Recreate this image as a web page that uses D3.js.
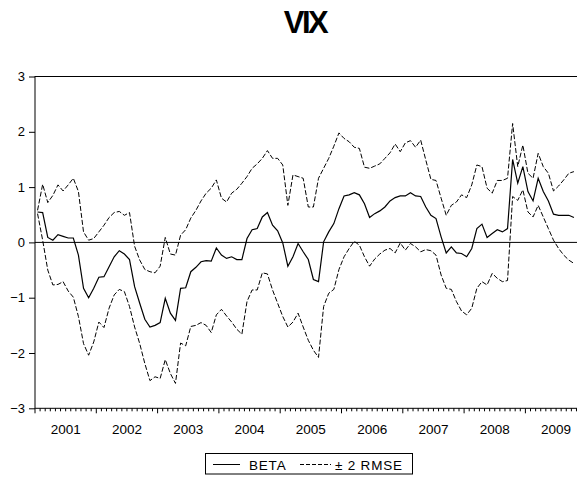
<!DOCTYPE html>
<html>
<head>
<meta charset="utf-8">
<script src="https://cdn.jsdelivr.net/npm/d3@7"></script>
<style>
  body { margin: 0; background: #fff; }
  svg { display: block; font-family: "Liberation Sans", Arial, sans-serif; }
</style>
</head>
<body>
<div id="chart"></div>
<script>
// monthly observations, 2001M01 onwards
var yearLabels = ["2001", "2002", "2003", "2004", "2005", "2006", "2007", "2008", "2009"];
var monthsShown = 108; // slots on the axis (9 years)

var beta = [0.55, 0.54, 0.09, 0.04, 0.14, 0.11, 0.08, 0.08, -0.23, -0.83,
    -1.00, -0.83, -0.63, -0.62, -0.44, -0.26, -0.15, -0.21, -0.31, -0.80,
    -1.10, -1.39, -1.53, -1.50, -1.45, -1.01, -1.28, -1.41, -0.83, -0.82,
    -0.53, -0.45, -0.35, -0.33, -0.34, -0.10, -0.23, -0.29, -0.26, -0.31,
    -0.31, 0.07, 0.23, 0.25, 0.46, 0.54, 0.31, 0.21, -0.01, -0.43,
    -0.26, -0.02, -0.17, -0.31, -0.67, -0.71, 0.01, 0.19, 0.34, 0.61,
    0.84, 0.86, 0.90, 0.86, 0.70, 0.45, 0.52, 0.57, 0.64, 0.75,
    0.81, 0.84, 0.84, 0.90, 0.84, 0.83, 0.64, 0.49, 0.43, 0.10,
    -0.19, -0.08, -0.19, -0.20, -0.26, -0.11, 0.25, 0.33, 0.09, 0.16,
    0.23, 0.19, 0.25, 1.50, 1.07, 1.37, 0.92, 0.75, 1.16, 0.92,
    0.75, 0.51, 0.49, 0.49, 0.49, 0.45];

var upper = [0.58, 1.05, 0.72, 0.85, 1.04, 0.93, 1.04, 1.16, 0.92, 0.19,
    0.04, 0.07, 0.19, 0.31, 0.45, 0.54, 0.56, 0.49, 0.54, -0.07,
    -0.32, -0.49, -0.53, -0.55, -0.43, 0.09, -0.21, -0.23, 0.13, 0.23,
    0.44, 0.58, 0.75, 0.89, 0.98, 1.13, 0.80, 0.73, 0.89, 0.96,
    1.07, 1.19, 1.34, 1.42, 1.52, 1.66, 1.52, 1.52, 1.40, 0.67,
    1.22, 1.19, 1.16, 0.64, 0.64, 1.16, 1.34, 1.52, 1.74, 1.98,
    1.88, 1.82, 1.72, 1.70, 1.36, 1.34, 1.38, 1.42, 1.52, 1.62,
    1.78, 1.64, 1.80, 1.84, 1.72, 1.85, 1.49, 1.14, 1.12, 0.80,
    0.49, 0.67, 0.73, 0.86, 0.81, 1.04, 1.40, 1.37, 0.98, 0.89,
    1.12, 1.12, 1.16, 2.15, 1.37, 1.76, 1.25, 1.16, 1.61, 1.37,
    1.25, 0.93, 1.02, 1.13, 1.25, 1.28];

var lower = [0.52, 0.04, -0.50, -0.77, -0.76, -0.71, -0.88, -0.99, -1.34, -1.83,
    -2.04, -1.80, -1.44, -1.54, -1.19, -0.95, -0.85, -0.89, -1.16, -1.53,
    -1.83, -2.19, -2.50, -2.43, -2.46, -2.12, -2.37, -2.55, -1.82, -1.87,
    -1.52, -1.50, -1.45, -1.50, -1.63, -1.31, -1.21, -1.33, -1.44, -1.57,
    -1.66, -1.07, -0.86, -0.86, -0.55, -0.57, -0.86, -1.10, -1.34, -1.53,
    -1.44, -1.28, -1.53, -1.77, -1.95, -2.08, -1.16, -0.92, -0.85, -0.49,
    -0.26, -0.11, 0.02, -0.05, -0.26, -0.43, -0.30, -0.21, -0.14, -0.11,
    -0.19, -0.01, -0.14, -0.02, -0.08, -0.17, -0.13, -0.15, -0.23, -0.59,
    -0.83, -0.85, -1.07, -1.24, -1.31, -1.19, -0.83, -0.71, -0.77, -0.56,
    -0.65, -0.71, -0.69, 0.83, 0.76, 0.95, 0.55, 0.46, 0.67, 0.46,
    0.25, 0.04, -0.11, -0.23, -0.32, -0.38];

var yTicks = [-3, -2, -1, 0, 1, 2, 3];

var width = 577, height = 481;
var plotLeft = 35, plotTop = 76.5, plotBottom = 408.3;
var plotRight = plotLeft + 61.3 * yearLabels.length;

var svg = d3.select("#chart").append("svg")
    .attr("width", width)
    .attr("height", height);

// title
svg.append("text")
    .attr("x", 305)
    .attr("y", 33)
    .attr("text-anchor", "middle")
    .attr("font-size", 31)
    .attr("font-weight", "bold")
    .attr("letter-spacing", -2.5)
    .text("VIX");

var x = d3.scaleLinear().domain([0, monthsShown]).range([plotLeft, plotRight]);
var y = d3.scaleLinear().domain([-3, 3]).range([plotBottom, plotTop]);

// frame
svg.append("rect")
    .attr("x", plotLeft)
    .attr("y", plotTop)
    .attr("width", plotRight - plotLeft)
    .attr("height", plotBottom - plotTop)
    .attr("fill", "none")
    .attr("stroke", "#000")
    .attr("stroke-width", 1);

// y axis
var yAxis = d3.axisLeft(y).tickValues(yTicks).tickSize(6).tickPadding(4).tickFormat(d3.format("d"));
var gy = svg.append("g")
    .attr("transform", "translate(" + plotLeft + ",0)")
    .call(yAxis);
gy.select(".domain").remove();
gy.selectAll("text").attr("font-size", 13).attr("font-family", "Liberation Sans, Arial, sans-serif").attr("fill", "#000");

// x axis: monthly minor ticks, yearly major ticks
var months = d3.range(0, monthsShown + 1);
svg.append("g").selectAll("line")
    .data(months)
    .enter().append("line")
    .attr("x1", function (d) { return x(d); })
    .attr("x2", function (d) { return x(d); })
    .attr("y1", plotBottom)
    .attr("y2", function (d) { return d % 12 === 0 ? plotBottom + 5 : plotBottom + 3; })
    .attr("stroke", "#000")
    .attr("stroke-width", 1);

svg.append("g").selectAll("text")
    .data(yearLabels)
    .enter().append("text")
    .attr("x", function (d, i) { return x(i * 12 + 6); })
    .attr("y", 433.5)
    .attr("text-anchor", "middle")
    .attr("font-size", 13.5)
    .text(function (d) { return d; });

// zero line
svg.append("line")
    .attr("x1", plotLeft)
    .attr("x2", plotRight)
    .attr("y1", y(0))
    .attr("y2", y(0))
    .attr("stroke", "#000")
    .attr("stroke-width", 1);

var line = d3.line()
    .x(function (d, i) { return x(i + 0.5); })
    .y(function (d) { return y(d); });

svg.append("path")
    .attr("d", line(upper))
    .attr("fill", "none")
    .attr("stroke", "#000")
    .attr("stroke-width", 1)
    .attr("stroke-dasharray", "5,2");

svg.append("path")
    .attr("d", line(lower))
    .attr("fill", "none")
    .attr("stroke", "#000")
    .attr("stroke-width", 1)
    .attr("stroke-dasharray", "5,2");

svg.append("path")
    .attr("d", line(beta))
    .attr("fill", "none")
    .attr("stroke", "#000")
    .attr("stroke-width", 1.2);

// legend
var lg = svg.append("g");
lg.append("rect")
    .attr("x", 205.5).attr("y", 453.5)
    .attr("width", 207).attr("height", 20.5)
    .attr("fill", "#fff").attr("stroke", "#000").attr("stroke-width", 1);
lg.append("line")
    .attr("x1", 213).attr("x2", 240).attr("y1", 464.5).attr("y2", 464.5)
    .attr("stroke", "#000").attr("stroke-width", 1);
lg.append("text")
    .attr("x", 249).attr("y", 469.5).attr("font-size", 13.5)
    .attr("letter-spacing", 0.8).text("BETA");
lg.append("line")
    .attr("x1", 300).attr("x2", 331).attr("y1", 464.5).attr("y2", 464.5)
    .attr("stroke", "#000").attr("stroke-width", 1).attr("stroke-dasharray", "4,2");
lg.append("text")
    .attr("x", 335).attr("y", 469.5).attr("font-size", 13.5)
    .attr("letter-spacing", 0.8).text("± 2 RMSE");
</script>
</body>
</html>
